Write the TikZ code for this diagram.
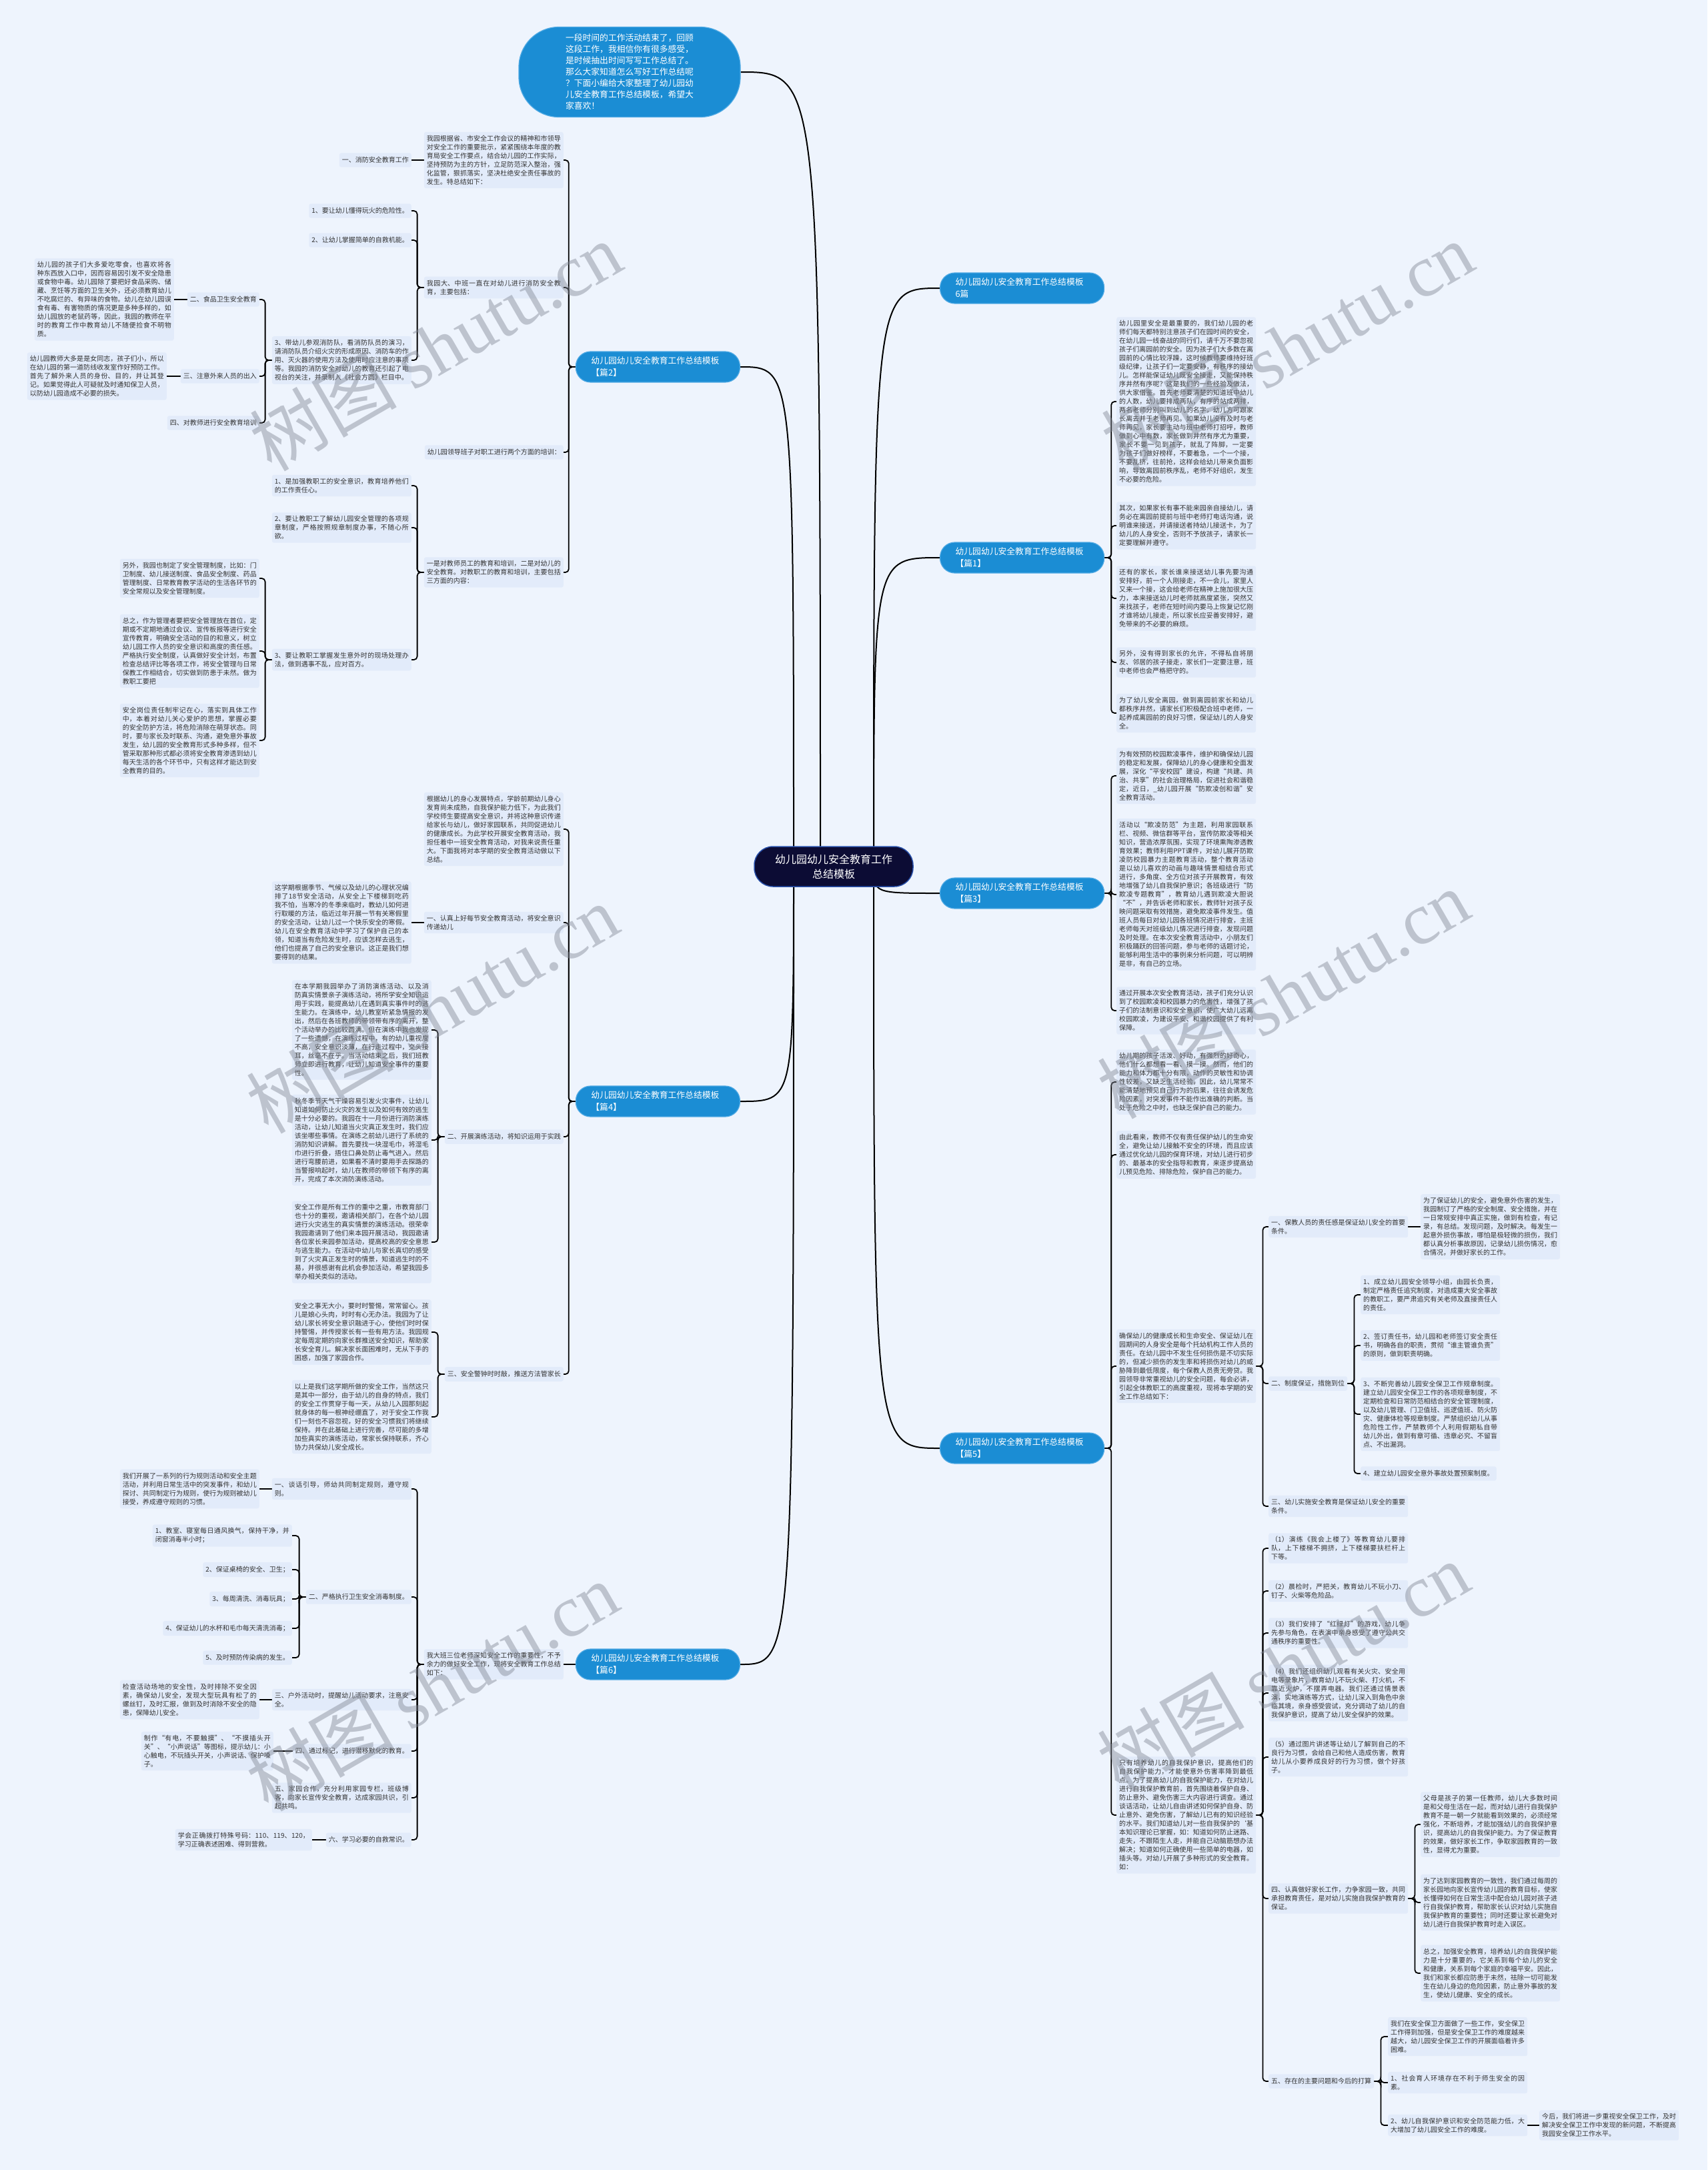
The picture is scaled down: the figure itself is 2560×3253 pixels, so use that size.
\documentclass[tikz,border=0pt]{standalone}
\usepackage{fontspec}
\setmainfont{Noto Sans CJK SC}
\newfontfamily\wmlatin{Liberation Serif}
\XeTeXlinebreaklocale "zh"
\XeTeXlinebreakskip=0pt plus 1pt
\definecolor{bgc}{RGB}{238,244,253}
\definecolor{boxc}{RGB}{226,235,250}
\definecolor{txtc}{RGB}{51,51,51}
\definecolor{brc}{RGB}{27,141,212}
\definecolor{brd}{RGB}{80,170,228}
\definecolor{rootc}{RGB}{12,12,52}
\definecolor{rootd}{RGB}{40,80,170}
\definecolor{wmc}{RGB}{130,136,150}
\pgfdeclarelayer{back}\pgfdeclarelayer{edges}\pgfdeclarelayer{front}
\pgfsetlayers{back,edges,main,front}
\tikzset{
  para/.style={fill=boxc, rounded corners=3pt, text=txtc, font=\fontsize{10}{13}\selectfont, text width=201pt, align=justify, inner xsep=4pt, inner ysep=5pt},
  lbl/.style={fill=boxc, rounded corners=3pt, text=txtc, font=\fontsize{10}{13}\selectfont, inner xsep=4pt, inner ysep=6pt},
  br/.style={fill=brc, draw=brd, line width=1.2pt, rounded corners=22pt, text=white, font=\fontsize{12.8}{18}\selectfont, text width=200pt, align=left, inner xsep=23pt, inner ysep=0pt, minimum height=46pt},
  rootbox/.style={fill=rootc, draw=rootd, line width=1.5pt, rounded corners=28pt, text=white, font=\fontsize{16}{22}\selectfont, align=center, minimum width=238pt, minimum height=60pt},
  bubble/.style={fill=brc, draw=brd, line width=1.2pt, rounded corners=60pt, text=white, font=\fontsize{12.8}{17}\selectfont, align=left, minimum width=332pt, minimum height=135pt},
  conn/.style={draw=black, line width=1.8pt, rounded corners=5pt},
  mainc/.style={draw=black, line width=2pt},
  wm/.style={text=wmc, opacity=0.45, font=\fontsize{110}{110}\selectfont, rotate=30, inner sep=0pt}
}
\newcommand\lnkL[2]{\draw[conn] (#1.west) -- ++(-10,0) |- (#2.east);}
\newcommand\lnkR[2]{\draw[conn] (#1.east) -- ++(10,0) |- (#2.west);}
\newcommand\lnkSL[2]{\draw[conn] (#1.west) -- (#2.east);}
\newcommand\lnkSR[2]{\draw[conn] (#1.east) -- (#2.west);}
\begin{document}
\begin{tikzpicture}[x=1pt,y=-1pt]
\begin{pgfonlayer}{back}
\fill[bgc] (0,0) rectangle (2560,3253);
\end{pgfonlayer}
\useasboundingbox (0,0) rectangle (2560,3253);

% ---------- root and intro ----------
\node[rootbox] (root) at (1250,1299) {幼儿园幼儿安全教育工作\\总结模板};
\node[bubble] (bub) at (944,108) {一段时间的工作活动结束了，回顾\\这段工作，我相信你有很多感受，\\是时候抽出时间写写工作总结了。\\那么大家知道怎么写好工作总结呢\\？下面小编给大家整理了幼儿园幼\\儿安全教育工作总结模板，希望大\\家喜欢！};

% ---------- branches ----------
\node[br, anchor=east] (b2) at (1110,550) {幼儿园幼儿安全教育工作总结模板\\【篇2】};
\node[br, anchor=east] (b4) at (1110,1651) {幼儿园幼儿安全教育工作总结模板\\【篇4】};
\node[br, anchor=east] (b6) at (1110,2495) {幼儿园幼儿安全教育工作总结模板\\【篇6】};
\node[br, anchor=west] (b0) at (1409,432) {幼儿园幼儿安全教育工作总结模板\\6篇};
\node[br, anchor=west] (b1) at (1409,836) {幼儿园幼儿安全教育工作总结模板\\【篇1】};
\node[br, anchor=west] (b3) at (1409,1339) {幼儿园幼儿安全教育工作总结模板\\【篇3】};
\node[br, anchor=west] (b5) at (1409,2171) {幼儿园幼儿安全教育工作总结模板\\【篇5】};

% ---------- 篇2 ----------
\node[para, anchor=east] (p2a) at (845,240) {我园根据省、市安全工作会议的精神和市领导对安全工作的重要批示，紧紧围绕本年度的教育局安全工作要点，结合幼儿园的工作实际，坚持预防为主的方针，立足防范深入整治，强化监管，狠抓落实，坚决杜绝安全责任事故的发生。特总结如下：};
\node[lbl, anchor=east] (p2a1) at (617,240) {一、消防安全教育工作};
\node[para, anchor=east] (p2b) at (845,431) {我园大、中班一直在对幼儿进行消防安全教育，主要包括：};
\node[lbl, anchor=east] (p2b1) at (617,316) {1、要让幼儿懂得玩火的危险性。};
\node[lbl, anchor=east] (p2b2) at (617,360) {2、让幼儿掌握简单的自救机能。};
\node[para, anchor=east] (p2b3) at (617,540) {3、带幼儿参观消防队，看消防队员的演习，请消防队员介绍火灾的形成原因、消防车的作用、灭火器的使用方法及使用时应注意的事项等。我园的消防安全对幼儿的教育还引起了电视台的关注，并录制入《社会方圆》栏目中。};
\node[lbl, anchor=east] (p2b3a) at (389,449) {二、食品卫生安全教育};
\node[para, anchor=east] (p2b3a1) at (261,449) {幼儿园的孩子们大多爱吃零食，也喜欢将各种东西放入口中，因而容易因引发不安全隐患或食物中毒。幼儿园除了要把好食品采购、储藏、烹饪等方面的卫生关外，还必须教育幼儿不吃腐烂的、有异味的食物。幼儿在幼儿园误食有毒、有害物质的情况更是多种多样的，如幼儿园放的老鼠药等，因此，我园的教师在平时的教育工作中教育幼儿不随便捡食不明物质。};
\node[lbl, anchor=east] (p2b3b) at (389,564) {三、注意外来人员的出入};
\node[para, anchor=east] (p2b3b1) at (250,564) {幼儿园教师大多是是女同志，孩子们小，所以在幼儿园的第一道防线收发室作好预防工作。首先了解外来人员的身份、目的，并让其登记。如果觉得此人可疑就及时通知保卫人员，以防幼儿园造成不必要的损失。};
\node[lbl, anchor=east] (p2b3c) at (389,634) {四、对教师进行安全教育培训};
\node[lbl, anchor=east] (p2c) at (845,678) {幼儿园领导班子对职工进行两个方面的培训：};
\node[para, anchor=east] (p2d) at (845,858) {一是对教师员工的教育和培训，二是对幼儿的安全教育。对教职工的教育和培训，主要包括三方面的内容：};
\node[para, anchor=east] (p2d1) at (617,728) {1、是加强教职工的安全意识，教育培养他们的工作责任心。};
\node[para, anchor=east] (p2d2) at (617,791) {2、要让教职工了解幼儿园安全管理的各项规章制度，严格按照规章制度办事，不随心所欲。};
\node[para, anchor=east] (p2d3) at (617,989) {3、要让教职工掌握发生意外时的现场处理办法，做到遇事不乱，应对百方。};
\node[para, anchor=east] (p2d3a) at (389,867) {另外，我园也制定了安全管理制度，比如：门卫制度、幼儿接送制度、食品安全制度、药品管理制度、日常教育教学活动的生活各环节的安全常规以及安全管理制度。};
\node[para, anchor=east] (p2d3b) at (389,976) {总之，作为管理者要把安全管理放在首位，定期或不定期地通过会议、宣传板报等进行安全宣传教育，明确安全活动的目的和意义，树立幼儿园工作人员的安全意识和高度的责任感。严格执行安全制度，认真做好安全计划，布置检查总结评比等各项工作，将安全管理与日常保教工作相结合，切实做到防患于未然。做为教职工要把};
\node[para, anchor=east] (p2d3c) at (389,1110) {安全岗位责任制牢记在心，落实到具体工作中，本着对幼儿关心爱护的思想，掌握必要的安全防护方法，将危险消除在萌芽状态。同时，要与家长及时联系、沟通，避免意外事故发生，幼儿园的安全教育形式多种多样，但不管采取那种形式都必须将安全教育渗透到幼儿每天生活的各个环节中，只有这样才能达到安全教育的目的。};

% ---------- 篇4 ----------
\node[para, anchor=east] (p4a) at (845,1243) {根据幼儿的身心发展特点，学龄前期幼儿身心发育尚未成熟，自我保护能力低下，为此我们学校师生要提高安全意识，并将这种意识传递给家长与幼儿，做好家园联系，共同促进幼儿的健康成长。为此学校开展安全教育活动，我担任着中一班安全教育活动，对我来说责任重大。下面我将对本学期的安全教育活动做以下总结。};
\node[para, anchor=east] (p4b) at (845,1383) {一、认真上好每节安全教育活动，将安全意识传递幼儿};
\node[para, anchor=east] (p4b1) at (617,1383) {这学期根据季节、气候以及幼儿的心理状况编排了18节安全活动，从安全上下楼梯到吃药我不怕，当寒冷的冬季来临时，教幼儿如何进行取暖的方法，临近过年开展一节有关寒假里的安全活动，让幼儿过一个快乐安全的寒假。幼儿在安全教育活动中学习了保护自己的本领，知道当有危险发生时，应该怎样去逃生，他们也提高了自己的安全意识。这正是我们想要得到的结果。};
\node[lbl, anchor=east] (p4c) at (845,1704) {二、开展演练活动，将知识运用于实践};
\node[para, anchor=east] (p4c1) at (647,1544) {在本学期我园举办了消防演练活动、以及消防真实情景亲子演练活动，将所学安全知识运用于实践，能提高幼儿在遇到真实事件时的逃生能力。在演练中，幼儿教室听紧急情报的发出，然后在各班教师的带领带有序的离开，整个活动举办的比较圆满。但在演练中我也发现了一些遗憾，在演练过程中，有的幼儿重视度不高，安全意识淡薄，在行走过程中，交头接耳，丝毫不在乎。当活动结束之后，我们班教师立即进行教育，让幼儿知道安全事件的重要性。};
\node[para, anchor=east] (p4c2) at (647,1709) {秋冬季节天气干燥容易引发火灾事件，让幼儿知道如何防止火灾的发生以及如何有效的逃生是十分必要的。我园在十一月份进行消防演练活动，让幼儿知道当火灾真正发生时，我们应该坐哪些事情。在演练之前幼儿进行了系统的消防知识讲解。首先要找一块湿毛巾，将湿毛巾进行折叠，捂住口鼻处防止毒气进入。然后进行弯腰前进，如果看不清时要用手去探路的当警报响起时，幼儿在教师的带领下有序的离开，完成了本次消防演练活动。};
\node[para, anchor=east] (p4c3) at (647,1862) {安全工作是所有工作的重中之重，市教育部门也十分的重视，邀请相关部门，在各个幼儿园进行火灾逃生的真实情景的演练活动。很荣幸我园邀请到了他们来本园开展活动，我园邀请各位家长来园参加活动，提高校高的安全意思与逃生能力。在活动中幼儿与家长真切的感受到了火灾真正发生时的情景，知道逃生时的不易，并很感谢有此机会参加活动，希望我园多举办相关类似的活动。};
\node[lbl, anchor=east] (p4d) at (845,2060) {三、安全警钟时时敲，推送方法管家长};
\node[para, anchor=east] (p4d1) at (647,1997) {安全之事无大小，要时时警惕，常常留心。孩儿是娘心头肉，时时有心无办法。我园为了让幼儿家长将安全意识融进于心，使他们时时保持警惕，并传授家长有一些有用方法。我园规定每周定期的向家长群推送安全知识，帮助家长安全育儿。解决家长面困难时，无从下手的困惑，加强了家园合作。};
\node[para, anchor=east] (p4d2) at (647,2124) {以上是我们这学期所做的安全工作，当然这只是其中一部分，由于幼儿的自身的特点，我们的安全工作贯穿于每一天，从幼儿入园那刻起就身体的每一根神经绷直了，对于安全工作我们一刻也不容忽视，好的安全习惯我们将继续保持。并在此基础上进行完善，尽可能的多增加些真实的演练活动，常家长保持联系，齐心协力共保幼儿安全成长。};

% ---------- 篇6 ----------
\node[para, anchor=east] (p6) at (845,2495) {我大班三位老师深知安全工作的重要性，不予余力的做好安全工作，现将安全教育工作总结如下：};
\node[para, anchor=east] (p6a) at (617,2232) {一、谈话引导，师幼共同制定规则，遵守规则。};
\node[para, anchor=east] (p6a1) at (389,2232) {我们开展了一系列的行为规则活动和安全主题活动，并利用日常生活中的突发事件，和幼儿探讨、共同制定行为规则，使行为规则被幼儿接受，养成遵守规则的习惯。};
\node[lbl, anchor=east] (p6b) at (617,2394) {二、严格执行卫生安全消毒制度。};
\node[para, anchor=east] (p6b1) at (438,2302) {1、教室、寝室每日通风换气，保持干净，并闭窗消毒半小时；};
\node[lbl, anchor=east] (p6b2) at (438,2353) {2、保证桌椅的安全、卫生；};
\node[lbl, anchor=east] (p6b3) at (438,2397) {3、每周清洗、消毒玩具；};
\node[lbl, anchor=east] (p6b4) at (438,2441) {4、保证幼儿的水杯和毛巾每天清洗消毒；};
\node[lbl, anchor=east] (p6b5) at (438,2485) {5、及时预防传染病的发生。};
\node[para, anchor=east] (p6c) at (617,2548) {三、户外活动时，提醒幼儿活动要求，注意安全。};
\node[para, anchor=east] (p6c1) at (389,2548) {检查活动场地的安全性，及时排除不安全因素，确保幼儿安全，发现大型玩具有松了的螺丝钉，及时汇报，做到及时消除不安全的隐患，保障幼儿安全。};
\node[lbl, anchor=east] (p6d) at (617,2625) {四、通过标记，进行潜移默化的教育。};
\node[para, anchor=east, text width=190pt] (p6d1) at (410,2625) {制作“有电，不要触摸”、“不摸插头开关”、“小声说话”等图标，提示幼儿：小心触电，不玩插头开关，小声说话、保护嗓子。};
\node[para, anchor=east] (p6e) at (617,2695) {五、家园合作，充分利用家园专栏，班级博客，向家长宣传安全教育，达成家园共识，引起共鸣。};
\node[lbl, anchor=east] (p6f) at (617,2758) {六、学习必要的自救常识。};
\node[para, anchor=east, text width=197pt] (p6f1) at (468,2758) {学会正确拨打特殊号码：110、119、120，学习正确表述困难、得到营救。};

% ---------- 篇1 ----------
\node[para, anchor=west] (p1a) at (1674,602) {幼儿园里安全是最重要的，我们幼儿园的老师们每天都特别注意孩子们在园时间的安全，在幼儿园一线奋战的同行们，请千万不要忽视孩子们离园前的安全。因为孩子们大多数在离园前的心情比较浮躁，这时候教师要维持好班级纪律，让孩子们一定要安静，有秩序的接幼儿。怎样能保证幼儿既安全接走，又能保持秩序井然有序呢？这是我们的一些经验及做法，供大家借鉴。首先老师要清楚的知道班中幼儿的人数，幼儿要排成两队，有序的站成两排，两名老师分别叫到幼儿的名字，幼儿方可跟家长离去并于老师再见。如果幼儿没有及时与老师再见，家长要主动与班中老师打招呼，教师做到心中有数，家长做到井然有序尤为重要，家长不要一见到孩子，就乱了阵脚，一定要为孩子们做好榜样，不要着急，一个一个接，不要乱挤，往前抢，这样会给幼儿带来负面影响，导致离园前秩序乱，老师不好组织，发生不必要的危险。};
\node[para, anchor=west] (p1b) at (1674,788) {其次，如果家长有事不能来园亲自接幼儿，请务必在离园前提前与班中老师打电话沟通，说明谁来接送，并请接送者持幼儿接送卡，为了幼儿的人身安全，否则不予放孩子，请家长一定要理解并遵守。};
\node[para, anchor=west] (p1c) at (1674,897) {还有的家长，家长谁来接送幼儿事先要沟通安排好，前一个人刚接走，不一会儿，家里人又来一个接，这会给老师在精神上施加很大压力，本来接送幼儿时老师就高度紧张，突然又来找孩子，老师在短时间内要马上恢复记忆刚才谁将幼儿接走，所以家长应妥善安排好，避免带来的不必要的麻烦。};
\node[para, anchor=west] (p1d) at (1674,993) {另外，没有得到家长的允许，不得私自将朋友、邻居的孩子接走，家长们一定要注意，班中老师也会严格把守的。};
\node[para, anchor=west] (p1e) at (1674,1069) {为了幼儿安全离园，做到离园前家长和幼儿都秩序井然，请家长们积极配合班中老师，一起养成离园前的良好习惯，保证幼儿的人身安全。};

% ---------- 篇3 ----------
\node[para, anchor=west] (p3a) at (1674,1163) {为有效预防校园欺凌事件，维护和确保幼儿园的稳定和发展，保障幼儿的身心健康和全面发展，深化“平安校园”建设，构建“共建、共治、共享”的社会治理格局，促进社会和谐稳定，近日，\_幼儿园开展“防欺凌创和谐”安全教育活动。};
\node[para, anchor=west] (p3b) at (1674,1341) {活动以“欺凌防范”为主题，利用家园联系栏、视频、微信群等平台，宣传防欺凌等相关知识，营造浓厚氛围，实现了环境熏陶渗透教育效果；教师利用PPT课件，对幼儿展开防欺凌防校园暴力主题教育活动，整个教育活动是以幼儿喜欢的动画与趣味情景相结合形式进行，多角度、全方位对孩子开展教育，有效地增强了幼儿自我保护意识；各班级进行“防欺凌专题教育”，教育幼儿遇到欺凌大胆说“不”，并告诉老师和家长，教师针对孩子反映问题采取有效措施，避免欺凌事件发生。值班人员每日对幼儿园各班情况进行排查，主班老师每天对班级幼儿情况进行排查，发现问题及时处理。在本次安全教育活动中，小朋友们积极踊跃的回答问题，参与老师的话题讨论，能够利用生活中的事例来分析问题，可以明辨是非，有自己的立场。};
\node[para, anchor=west] (p3c) at (1674,1515) {通过开展本次安全教育活动，孩子们充分认识到了校园欺凌和校园暴力的危害性，增强了孩子们的法制意识和安全意识，使广大幼儿远离校园欺凌，为建设平安、和谐校园提供了有利保障。};

% ---------- 篇5 ----------
\node[para, anchor=west] (p5a) at (1674,1622) {幼儿期的孩子活泼、好动，有强烈的好奇心，他们什么都想看一看、摸一摸。然而，他们的能力和体力都十分有限，动作的灵敏性和协调性较差，又缺乏生活经验，因此，幼儿常常不能清楚地预见自己行为的后果，往往会诱发危险因素，对突发事件不能作出准确的判断。当处于危险之中时，也缺乏保护自己的能力。};
\node[para, anchor=west] (p5b) at (1674,1731) {由此看来，教师不仅有责任保护幼儿的生命安全，避免让幼儿接触不安全的环境，而且应该通过优化幼儿园的保育环境，对幼儿进行初步的、最基本的安全指导和教育，来逐步提高幼儿预见危险、排除危险，保护自己的能力。};
\node[para, anchor=west] (p5c) at (1674,2048) {确保幼儿的健康成长和生命安全、保证幼儿在园期间的人身安全是每个托幼机构工作人员的责任。在幼儿园中不发生任何损伤是不切实际的，但减少损伤的发生率和将损伤对幼儿的威胁降到最低限度，每个保教人员责无旁贷。我园领导非常重视幼儿的安全问题，每会必讲，引起全体教职工的高度重视，现将本学期的安全工作总结如下：};
\node[para, anchor=west] (p5c1) at (1902,1839) {一、保教人员的责任感是保证幼儿安全的首要条件。};
\node[para, anchor=west] (p5c1a) at (2130,1839) {为了保证幼儿的安全，避免意外伤害的发生，我园制订了严格的安全制度、安全措施，并在一日常规安排中真正实施，做到有检查，有记录，有总结。发现问题，及时解决。每发生一起意外损伤事故，哪怕是极轻微的损伤，我们都认真分析事故原因，记录幼儿损伤情况，愈合情况，并做好家长的工作。};
\node[lbl, anchor=west] (p5c2) at (1902,2074) {二、制度保证，措施到位};
\node[para, anchor=west] (p5c2a) at (2040,1941) {1、成立幼儿园安全领导小组，由园长负责，制定严格责任追究制度，对造成重大安全事故的教职工，要严肃追究有关老师及直接责任人的责任。};
\node[para, anchor=west] (p5c2b) at (2040,2017) {2、签订责任书，幼儿园和老师签订安全责任书，明确各自的职责，贯彻“谁主管谁负责”的原则，做到职责明确。};
\node[para, anchor=west] (p5c2c) at (2040,2120) {3、不断完善幼儿园安全保卫工作规章制度。建立幼儿园安全保卫工作的各项规章制度，不定期检查和日常防范相结合的安全管理制度，以及幼儿管理、门卫值班、巡逻值班、防火防灾、健康体检等规章制度。严禁组织幼儿从事危险性工作，严禁教师个人利用假期私自带幼儿外出，做到有章可循、违章必究、不留盲点、不出漏洞。};
\node[lbl, anchor=west] (p5c2d) at (2040,2209) {4、建立幼儿园安全意外事故处置预案制度。};
\node[para, anchor=west] (p5c3) at (1902,2258) {三、幼儿实施安全教育是保证幼儿安全的重要条件。};
\node[para, anchor=west] (p5d) at (1674,2721) {只有培养幼儿的自我保护意识，提高他们的自我保护能力，才能使意外伤害率降到最低点。为了提高幼儿的自我保护能力，在对幼儿进行自我保护教育前，首先围绕着保护自身、防止意外、避免伤害三大内容进行调查。通过谈话活动，让幼儿自由讲述如何保护自身、防止意外、避免伤害，了解幼儿已有的知识经验的水平。我们知道幼儿对一些自我保护的‘基本知识理论已掌握，如：知道如何防止迷路、走失，不跟陌生人走，并能自己动脑筋想办法解决；知道如何正确使用一些简单的电器，如插头等。对幼儿开展了多种形式的安全教育。如：};
\node[para, anchor=west] (p5d1) at (1902,2321) {（1）演练《我会上楼了》等教育幼儿要排队，上下楼梯不拥挤，上下楼梯要扶栏杆上下等。};
\node[para, anchor=west] (p5d2) at (1902,2385) {（2）晨检时，严把关，教育幼儿不玩小刀、钉子、火柴等危险品。};
\node[para, anchor=west] (p5d3) at (1902,2448) {（3）我们安排了“红绿灯”的游戏，幼儿争先参与角色，在表演中亲身感受了遵守公共交通秩序的重要性。};
\node[para, anchor=west] (p5d4) at (1902,2538) {（4）我们还组织幼儿观看有关火灾、安全用电等录象片，教育幼儿不玩火柴、打火机，不靠近火炉，不摆弄电器。我们还通过情景表演，实地演练等方式，让幼儿深入到角色中亲临其境，亲身感受尝试，充分调动了幼儿的自我保护意识，提高了幼儿安全保护的效果。};
\node[para, anchor=west] (p5d5) at (1902,2634) {（5）通过图片讲述等让幼儿了解到自己的不良行为习惯，会给自己和他人造成伤害，教育幼儿从小要养成良好的行为习惯，做个好孩子。};
\node[para, anchor=west] (p5d6) at (1902,2846) {四、认真做好家长工作，力争家园一致，共同承担教育责任，是对幼儿实施自我保护教育的保证。};
\node[para, anchor=west] (p5d6a) at (2130,2735) {父母是孩子的第一任教师，幼儿大多数时间是和父母生活在一起，而对幼儿进行自我保护教育不是一朝一夕就能看到效果的，必须经常强化，不断培养，才能加强幼儿的自我保护意识，提高幼儿的自我保护能力。为了保证教育的效果，做好家长工作，争取家园教育的一致性，显得尤为重要。};
\node[para, anchor=west] (p5d6b) at (2130,2852) {为了达到家园教育的一致性，我们通过每周的家长园地向家长宣传幼儿园的教育目标，使家长懂得如何在日常生活中配合幼儿园对孩子进行自我保护教育，帮助家长认识对幼儿实施自我保护教育的重要性；同时还要让家长避免对幼儿进行自我保护教育时走入误区。};
\node[para, anchor=west] (p5d6c) at (2130,2958) {总之，加强安全教育，培养幼儿的自我保护能力是十分重要的，它关系到每个幼儿的安全和健康，关系到每个家庭的幸福平安。因此，我们和家长都应防患于未然，祛除一切可能发生在幼儿身边的危险因素，防止意外事故的发生，使幼儿健康、安全的成长。};
\node[lbl, anchor=west] (p5d7) at (1902,3120) {五、存在的主要问题和今后的打算};
\node[para, anchor=west] (p5d7a) at (2081,3053) {我们在安全保卫方面做了一些工作，安全保卫工作得到加强，但是安全保卫工作的难度越来越大，幼儿园安全保卫工作的开展面临着许多困难。};
\node[para, anchor=west] (p5d7b) at (2081,3122) {1、社会育人环境存在不利于师生安全的因素。};
\node[para, anchor=west] (p5d7c) at (2081,3186) {2、幼儿自我保护意识和安全防范能力低，大大增加了幼儿园安全工作的难度。};
\node[para, anchor=west] (p5d7c1) at (2308,3186) {今后，我们将进一步重视安全保卫工作，及时解决安全保卫工作中发现的新问题，不断提高我园安全保卫工作水平。};

% ---------- connectors ----------
\begin{pgfonlayer}{edges}
\coordinate (sL) at (1190,1299);
\coordinate (sR) at (1310,1299);
\coordinate (sT) at (1230,1299);
\draw[mainc] (sT) .. controls (sT |- bub.east) .. (bub.east);
\draw[mainc] (sL) .. controls (sL |- b2.east) .. (b2.east);
\draw[mainc] (sL) .. controls (sL |- b4.east) .. (b4.east);
\draw[mainc] (sL) .. controls (sL |- b6.east) .. (b6.east);
\draw[mainc] (sR) .. controls (sR |- b0.west) .. (b0.west);
\draw[mainc] (sR) .. controls (sR |- b1.west) .. (b1.west);
\draw[mainc] (sR) .. controls (sR |- b3.west) .. (b3.west);
\draw[mainc] (sR) .. controls (sR |- b5.west) .. (b5.west);
% 篇2
\lnkL{b2}{p2a} \lnkL{b2}{p2b} \lnkL{b2}{p2c} \lnkL{b2}{p2d}
\lnkSL{p2a}{p2a1}
\lnkL{p2b}{p2b1} \lnkL{p2b}{p2b2} \lnkL{p2b}{p2b3}
\lnkL{p2b3}{p2b3a} \lnkL{p2b3}{p2b3b} \lnkL{p2b3}{p2b3c}
\lnkSL{p2b3a}{p2b3a1} \lnkSL{p2b3b}{p2b3b1}
\lnkL{p2d}{p2d1} \lnkL{p2d}{p2d2} \lnkL{p2d}{p2d3}
\lnkL{p2d3}{p2d3a} \lnkL{p2d3}{p2d3b} \lnkL{p2d3}{p2d3c}
% 篇4
\lnkL{b4}{p4a} \lnkL{b4}{p4b} \lnkL{b4}{p4c} \lnkL{b4}{p4d}
\lnkSL{p4b}{p4b1}
\lnkL{p4c}{p4c1} \lnkL{p4c}{p4c2} \lnkL{p4c}{p4c3}
\lnkL{p4d}{p4d1} \lnkL{p4d}{p4d2}
% 篇6
\lnkSL{b6}{p6}
\lnkL{p6}{p6a} \lnkL{p6}{p6b} \lnkL{p6}{p6c} \lnkL{p6}{p6d} \lnkL{p6}{p6e} \lnkL{p6}{p6f}
\lnkSL{p6a}{p6a1}
\lnkL{p6b}{p6b1} \lnkL{p6b}{p6b2} \lnkL{p6b}{p6b3} \lnkL{p6b}{p6b4} \lnkL{p6b}{p6b5}
\lnkSL{p6c}{p6c1} \lnkSL{p6d}{p6d1} \lnkSL{p6f}{p6f1}
% 篇1
\lnkR{b1}{p1a} \lnkR{b1}{p1b} \lnkR{b1}{p1c} \lnkR{b1}{p1d} \lnkR{b1}{p1e}
% 篇3
\lnkR{b3}{p3a} \lnkR{b3}{p3b} \lnkR{b3}{p3c}
% 篇5
\lnkR{b5}{p5a} \lnkR{b5}{p5b} \lnkR{b5}{p5c} \lnkR{b5}{p5d}
\lnkR{p5c}{p5c1} \lnkR{p5c}{p5c2} \lnkR{p5c}{p5c3}
\lnkSR{p5c1}{p5c1a}
\lnkR{p5c2}{p5c2a} \lnkR{p5c2}{p5c2b} \lnkR{p5c2}{p5c2c} \lnkR{p5c2}{p5c2d}
\lnkR{p5d}{p5d1} \lnkR{p5d}{p5d2} \lnkR{p5d}{p5d3} \lnkR{p5d}{p5d4} \lnkR{p5d}{p5d5} \lnkR{p5d}{p5d6} \lnkR{p5d}{p5d7}
\lnkR{p5d6}{p5d6a} \lnkR{p5d6}{p5d6b} \lnkR{p5d6}{p5d6c}
\lnkR{p5d7}{p5d7a} \lnkR{p5d7}{p5d7b} \lnkR{p5d7}{p5d7c}
\lnkSR{p5d7c}{p5d7c1}
\end{pgfonlayer}

% ---------- watermark ----------
\begin{pgfonlayer}{front}
\node[wm] (wm1) at (653,519) {树图 {\wmlatin shutu.cn}};
\node[wm] (wm2) at (1930,519) {树图 {\wmlatin shutu.cn}};
\node[wm] (wm3) at (648,1512) {树图 {\wmlatin shutu.cn}};
\node[wm] (wm4) at (1924,1490) {树图 {\wmlatin shutu.cn}};
\node[wm] (wm5) at (648,2528) {树图 {\wmlatin shutu.cn}};
\node[wm] (wm6) at (1924,2498) {树图 {\wmlatin shutu.cn}};
\end{pgfonlayer}
\end{tikzpicture}
\end{document}
